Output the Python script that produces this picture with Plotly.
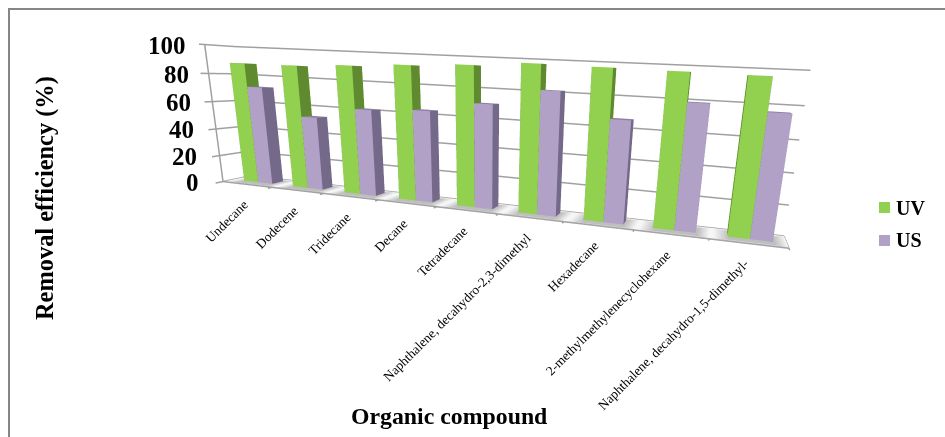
import plotly.graph_objects as go

categories = ["Undecane", "Dodecene", "Tridecane", "Decane", "Tetradecane",
              "Naphthalene, decahydro-2,3-dimethyl", "Hexadecane",
              "2-methylmethylenecyclohexane", "Naphthalene, decahydro-1,5-dimethyl-"]
uv_values = [88.1, 88.3, 90.2, 92.4, 94.3, 97.0, 96.5, 96.1, 95.7]
us_values = [71.7, 52.9, 61.1, 63.2, 70.3, 81.1, 66.1, 78.8, 75.9]
y_ticks = [0, 20, 40, 60, 80, 100]

W, H = 945, 437
GRID = "#A0A0A0"
FLOOR = "#F6F6F6"
SERIF = "Liberation Serif"

# Camera and box proportions of the 3D scene
EYE = (0.756, -1.604, 0.209)
CENTER = (0.3, 0.167, -0.297)
UP = (-0.024, -0.084, 1)
ASPECT_X, ASPECT_Y, ASPECT_Z = 2.0, 0.125, 0.49
VIEW_CENTRE_PX = 572.0

# Depth and width of each bar inside its category slot
BAR_Y0, BAR_Y1 = 0.346, 0.768
UV_SPAN = (0.24, 0.53)
US_SPAN = (0.53, 0.82)

FLAT = dict(flatshading=True, hoverinfo="skip",
            lighting=dict(ambient=1, diffuse=0, specular=0, fresnel=0))


def bars(values, span, colors):
    """One cuboid per value, coloured by face: front, side, top."""
    front, side, top = colors
    fi = [0, 0, 1, 1, 2, 2, 3, 3, 4, 4, 0, 0]
    fj = [1, 5, 2, 6, 3, 7, 0, 4, 5, 6, 1, 2]
    fk = [5, 4, 6, 5, 7, 6, 4, 7, 6, 7, 2, 3]
    face = [front] * 2 + [side] * 2 + [front] * 2 + [side] * 2 + [top] * 2 + [front] * 2
    xs, ys, zs, i, j, k, fc = [], [], [], [], [], [], []
    for n, v in enumerate(values):
        x0, x1, o = n + span[0], n + span[1], len(xs)
        xs += [x0, x1, x1, x0, x0, x1, x1, x0]
        ys += [BAR_Y0, BAR_Y0, BAR_Y1, BAR_Y1] * 2
        zs += [0] * 4 + [v] * 4
        i += [a + o for a in fi]
        j += [a + o for a in fj]
        k += [a + o for a in fk]
        fc += face
    return go.Mesh3d(x=xs, y=ys, z=zs, i=i, j=j, k=k, facecolor=fc, **FLAT)


def floor_shadows():
    """Soft grey patches on the floor, fading out from under each bar pair."""
    xs, ys, zs, i, j, k, vc = [], [], [], [], [], [], []
    for n in range(len(categories)):
        o = len(xs)
        xs += [n + .06, n + 1, n + 1, n + .06, n + .26, n + .84, n + .84, n + .26]
        ys += [0, 0, .95, .95, .12, .12, .8, .8]
        zs += [.2] * 8
        vc += [FLOOR] * 4 + ["#BEBEBE"] * 4
        for a, b in [(0, 1), (1, 2), (2, 3), (3, 0)]:
            i += [o + a, o + b]
            j += [o + b, o + b + 4]
            k += [o + a + 4, o + a + 4]
        i += [o + 4, o + 4]
        j += [o + 5, o + 6]
        k += [o + 6, o + 7]
    return go.Mesh3d(x=xs, y=ys, z=zs, i=i, j=j, k=k, vertexcolor=vc, **FLAT)


def line3d(x, y, z):
    return go.Scatter3d(x=x, y=y, z=z, mode="lines", hoverinfo="skip",
                        line=dict(color=GRID, width=3))


n_cat = len(categories)
fig = go.Figure([
    go.Mesh3d(x=[0, n_cat, n_cat, 0], y=[0, 0, 1, 1], z=[0, 0, 0, 0],
              i=[0, 0], j=[1, 2], k=[2, 3], color=FLOOR, **FLAT),
    floor_shadows(),
    bars(uv_values, UV_SPAN, ("#92D050", "#5F8A2F", "#6FA03A")),
    bars(us_values, US_SPAN, ("#B2A1C7", "#75698A", "#8F81A0")),
])

# Wall grid lines with their tick stubs, floor outline and category ticks
for z in y_ticks:
    fig.add_trace(line3d([0, 0, n_cat], [-.25, 1, 1], [z] * 3))
fig.add_trace(line3d([n_cat, n_cat, 0], [1, 0, 0], [0, 0, 0]))
fig.add_trace(line3d([0, 0], [0, 0], [0, 100]))
for n in range(1, n_cat + 1):
    fig.add_trace(line3d([n, n], [0, -.15], [0, 0]))

scene_labels = [dict(x=0, y=0, z=z, text=str(z), xanchor="right", yanchor="middle",
                     xshift=-22 + z * .05, yshift=-1, showarrow=False,
                     font=dict(family=SERIF, size=25, color="black", weight="bold"))
                for z in y_ticks]
scene_labels += [dict(x=n + .5, y=0, z=0, text=c, textangle=-45, xanchor="right", yanchor="top",
                      xshift=6, yshift=-10, showarrow=False,
                      font=dict(family=SERIF, size=13.3, color="black"))
                 for n, c in enumerate(categories)]

# The y range is off-centre, so the camera moves with it to keep the same view
y_lo, y_hi = -.25, 1.05
y_shift = ASPECT_Y * (.5 - (y_lo + y_hi) / 2)
x_pad, z_pad = .1, 1


def px(x, y):
    return dict(x=x / W, y=1 - y / H, xref="paper", yref="paper")


def text(x, y, s, size, xanchor="center", **kw):
    return dict(**px(x, y), text=s, showarrow=False, xanchor=xanchor, yanchor="middle",
                font=dict(family=SERIF, size=size, color="black", weight="bold"), **kw)


def swatch(x0, y0, x1, y1, color):
    return dict(type="rect", xref="paper", yref="paper", x0=x0 / W, x1=x1 / W,
                y0=1 - y0 / H, y1=1 - y1 / H, fillcolor=color, line=dict(width=0))


frame = dict(type="path", xref="paper", yref="paper",
             path=f"M {9 / W} 0 L {9 / W} {1 - 9 / H} L 1 {1 - 9 / H}",
             line=dict(color="#868686", width=2))

fig.update_layout(
    width=W, height=H, margin=dict(l=0, r=0, t=0, b=0), showlegend=False,
    paper_bgcolor="white",
    scene=dict(
        domain=dict(x=[(2 * VIEW_CENTRE_PX - W) / W, 1], y=[0, 1]),
        xaxis=dict(visible=False, range=[-x_pad, n_cat + x_pad]),
        yaxis=dict(visible=False, range=[y_lo, y_hi]),
        zaxis=dict(visible=False, range=[-z_pad, 100 + z_pad]),
        aspectmode="manual",
        aspectratio=dict(x=ASPECT_X * (n_cat + 2 * x_pad) / n_cat,
                         y=ASPECT_Y * (y_hi - y_lo),
                         z=ASPECT_Z * (100 + 2 * z_pad) / 100),
        dragmode="orbit",
        annotations=scene_labels,
        camera=dict(eye=dict(x=EYE[0], y=EYE[1] + y_shift, z=EYE[2]),
                    center=dict(x=CENTER[0], y=CENTER[1] + y_shift, z=CENTER[2]),
                    up=dict(x=UP[0], y=UP[1], z=UP[2])),
    ),
    shapes=[frame,
            swatch(879, 202, 890, 213, "#92D050"),
            swatch(879, 235, 890, 246, "#B2A1C7")],
    annotations=[
        text(45, 198, "Removal efficiency (%)", 24.4, textangle=-90),
        text(449, 416, "Organic compound", 23.8),
        text(894, 207.5, "UV", 20, xanchor="left"),
        text(894, 240.5, "US", 20, xanchor="left"),
    ],
)
fig.write_html("out.html")
